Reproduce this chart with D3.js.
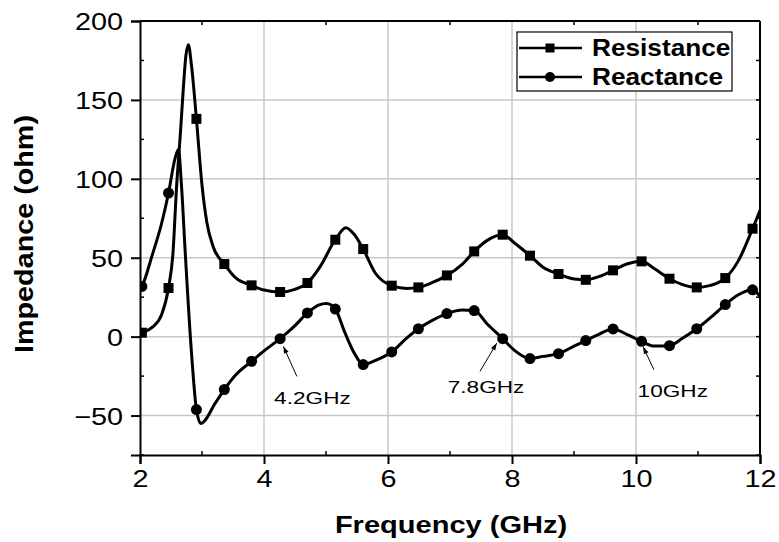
<!DOCTYPE html>
<html>
<head>
<meta charset="utf-8">
<script src="https://cdn.jsdelivr.net/npm/d3@7"></script>
<style>
  html, body { margin: 0; padding: 0; background: #ffffff; }
  svg { display: block; font-family: "Liberation Sans", Arial, sans-serif; }
</style>
</head>
<body>
<svg id="chart" width="779" height="542"></svg>
<script>
// ---------------- DATA ----------------
const xTicks = [2, 4, 6, 8, 10, 12];
const yTicks = [-50, 0, 50, 100, 150, 200];
const seriesNames = ["Resistance", "Reactance"];

// marker frequencies (GHz), shared by both series
const markerFreq = [2.03, 2.46, 2.91, 3.36, 3.80, 4.26, 4.70, 5.15, 5.60, 6.06, 6.49, 6.95,
                    7.39, 7.85, 8.29, 8.75, 9.19, 9.63, 10.09, 10.54, 10.98, 11.44, 11.88];
const resMarkers = [2.5, 30.8, 138, 46, 32.5, 28.3, 34, 61.4, 55.5, 32.3, 31.2, 38.8,
                    54, 64.6, 51.3, 39.7, 36, 42, 47.7, 36.7, 31.2, 37.1, 68.4];
const reaMarkers = [31.8, 91, -46.2, -33.5, -15.6, -1.3, 15, 17.5, -17.7, -9.7, 5, 14.6,
                    16.5, -1.3, -13.9, -10.8, -2.5, 4.9, -3, -5.7, 5, 20.3, 29.7];

// resistance curve
const resFreq = [2.0, 2.03, 2.2, 2.35, 2.46, 2.53, 2.59, 2.65, 2.70, 2.74, 2.78, 2.83, 2.91,
                 3.0, 3.08, 3.18, 3.36, 3.55, 3.80, 4.0, 4.26, 4.5, 4.70, 4.9, 5.15, 5.32,
                 5.45, 5.60, 5.8, 6.06, 6.3, 6.49, 6.7, 6.95, 7.2, 7.39, 7.6, 7.85, 8.05,
                 8.29, 8.5, 8.75, 9.0, 9.19, 9.4, 9.63, 9.85, 10.09, 10.3, 10.54, 10.75,
                 10.98, 11.2, 11.44, 11.65, 11.88, 12.0];
const resVal  = [2, 2.5, 6, 14, 31, 52, 95, 128, 158, 178, 185, 172, 138,
                 96, 72, 57, 46, 37, 32.5, 29.5, 28.3, 30, 34, 44, 61.4, 69,
                 65, 55.5, 40, 32.3, 30.5, 31.2, 34, 38.8, 46, 54, 61, 64.6, 59,
                 51.3, 44, 39.7, 36.5, 36, 38, 42, 46, 47.7, 43, 36.7, 33,
                 31.2, 32.5, 37.1, 48, 68.4, 80];

// reactance curve
const reaFreq = [2.0, 2.03, 2.2, 2.35, 2.46, 2.56, 2.62, 2.67, 2.73, 2.83, 2.91, 2.98, 3.05,
                 3.2, 3.36, 3.55, 3.80, 4.0, 4.26, 4.5, 4.70, 4.88, 5.01, 5.15, 5.3, 5.45,
                 5.60, 5.8, 6.06, 6.3, 6.49, 6.7, 6.95, 7.2, 7.39, 7.6, 7.85, 8.05, 8.29,
                 8.5, 8.75, 9.0, 9.19, 9.4, 9.63, 9.85, 10.09, 10.3, 10.54, 10.75, 10.98,
                 11.2, 11.44, 11.65, 11.88, 12.0];
const reaVal  = [30, 31.8, 52, 72, 91, 112, 118.5, 95, 53, -10, -46.2, -55, -53,
                 -43, -33.5, -24, -15.6, -9, -1.3, 7, 15, 20, 21, 17.5, 3, -10,
                 -17.7, -15, -9.7, -1, 5, 10, 14.6, 16.8, 16.5, 8, -1.3, -9, -13.9,
                 -12.5, -10.8, -6, -2.5, 1.5, 4.9, 1.5, -3, -6, -5.7, -1, 5,
                 12, 20.3, 26.5, 29.7, 25.5];

// annotations (reactance crossing points)
const annLabels = ["4.2GHz", "7.8GHz", "10GHz"];
const annFreq   = [4.26, 7.85, 10.09];
const annVal    = [-1.3, -1.3, -3];

// ---------------- LAYOUT ----------------
const svg = d3.select("#chart");
const L = 140, R = 760, T = 21, B = 455;
const x = d3.scaleLinear().domain([2, 12]).range([L, R]);
const y = d3.scaleLinear().domain([-75, 200]).range([B, T]);

svg.append("rect").attr("width", 779).attr("height", 542).attr("fill", "#fff");

svg.append("defs").append("clipPath").attr("id", "clip")
  .append("rect").attr("x", L).attr("y", T).attr("width", R - L).attr("height", B - T);

// gridlines
const grid = svg.append("g").attr("stroke", "#c8c8c8").attr("stroke-width", 1.5);
grid.selectAll("line.gx").data(xTicks.filter(d => d > 2 && d < 12)).join("line")
  .attr("x1", d => x(d)).attr("x2", d => x(d)).attr("y1", T).attr("y2", B);
grid.selectAll("line.gy").data(yTicks.filter(d => d < 200)).join("line")
  .attr("x1", L).attr("x2", R).attr("y1", d => y(d)).attr("y2", d => y(d));

// curves
const plot = svg.append("g").attr("clip-path", "url(#clip)");
const line = d3.line().x(d => x(d[0])).y(d => y(d[1])).curve(d3.curveMonotoneX);
const resPts = resFreq.map((f, i) => [f, resVal[i]]);
const reaPts = reaFreq.map((f, i) => [f, reaVal[i]]);
plot.append("path").datum(resPts).attr("d", line)
  .attr("fill", "none").attr("stroke", "#000").attr("stroke-width", 3).attr("stroke-linejoin", "round");
plot.append("path").datum(reaPts).attr("d", line)
  .attr("fill", "none").attr("stroke", "#000").attr("stroke-width", 3).attr("stroke-linejoin", "round");

// markers
const sq = 10;
plot.selectAll("rect.res").data(markerFreq.map((f, i) => [f, resMarkers[i]])).join("rect")
  .attr("x", d => x(d[0]) - sq / 2).attr("y", d => y(d[1]) - sq / 2)
  .attr("width", sq).attr("height", sq).attr("fill", "#000");
plot.selectAll("circle.rea").data(markerFreq.map((f, i) => [f, reaMarkers[i]])).join("circle")
  .attr("cx", d => x(d[0])).attr("cy", d => y(d[1])).attr("r", 5.5).attr("fill", "#000");

// axes
const sx = 1.2;
const xAxis = svg.append("g").attr("transform", `translate(0,${B})`)
  .call(d3.axisBottom(x).tickValues(xTicks).tickSize(9).tickPadding(6).tickFormat(d3.format("d")));
const yAxis = svg.append("g").attr("transform", `translate(${L},0)`)
  .call(d3.axisLeft(y).tickValues(yTicks).tickSize(9).tickPadding(8).tickFormat(d3.format("d")));
[xAxis, yAxis].forEach(a => {
  a.select(".domain").attr("stroke-width", 2);
  a.selectAll(".tick line").attr("stroke-width", 2);
  a.selectAll(".tick text").attr("font-size", 24).attr("fill", "#000")
    .attr("font-family", "Liberation Sans, Arial, sans-serif");
});
xAxis.selectAll(".tick text").attr("transform", `scale(${sx},1)`).attr("y", 15).attr("dy", "0.71em");
yAxis.selectAll(".tick text").attr("transform", `scale(${sx},1)`).attr("x", -17 / sx).attr("dy", "0.36em");

// minor ticks (inward)
const minorX = d3.range(3, 12, 2);
const minorY = d3.range(-75, 201, 25).filter(v => yTicks.indexOf(v) < 0);
const mt = svg.append("g").attr("stroke", "#000").attr("stroke-width", 1.5);
mt.selectAll("line.mx").data(minorX).join("line")
  .attr("x1", d => x(d)).attr("x2", d => x(d)).attr("y1", B).attr("y2", B - 4);
mt.selectAll("line.mxt").data(minorX).join("line")
  .attr("x1", d => x(d)).attr("x2", d => x(d)).attr("y1", T).attr("y2", T + 4);
mt.selectAll("line.my").data(minorY).join("line")
  .attr("x1", L).attr("x2", L + 4).attr("y1", d => y(d)).attr("y2", d => y(d));
mt.selectAll("line.myr").data(minorY.concat(yTicks)).join("line")
  .attr("x1", R).attr("x2", R - 4).attr("y1", d => y(d)).attr("y2", d => y(d));

// top & right frame
svg.append("line").attr("x1", L).attr("x2", R).attr("y1", T).attr("y2", T).attr("stroke", "#000").attr("stroke-width", 2);
svg.append("line").attr("x1", R).attr("x2", R).attr("y1", T).attr("y2", B).attr("stroke", "#000").attr("stroke-width", 2);

// stretched text helper
function sText(parent, tx, ty, str, size, weight, stretch, anchor, rot) {
  const g = parent.append("g").attr("transform", `translate(${tx},${ty})` + (rot ? ` rotate(${rot})` : ""));
  g.append("text").attr("transform", `scale(${stretch},1)`)
    .attr("text-anchor", anchor || "start").attr("font-size", size).attr("font-weight", weight)
    .attr("fill", "#000").text(str);
  return g;
}

// axis titles
sText(svg, (L + R) / 2 + 1, 533, "Frequency (GHz)", 24, "bold", 1.21, "middle");
sText(svg, 33, 234, "Impedance (ohm)", 25, "bold", 1.15, "middle", -90);

// legend
const lg = svg.append("g");
lg.append("rect").attr("x", 517).attr("y", 32).attr("width", 215).attr("height", 59)
  .attr("fill", "#fff").attr("stroke", "#000").attr("stroke-width", 1.2);
seriesNames.forEach((name, i) => {
  const ly = 48 + i * 29;
  lg.append("line").attr("x1", 519).attr("x2", 582).attr("y1", ly).attr("y2", ly)
    .attr("stroke", "#000").attr("stroke-width", 2.5);
  if (i === 0) {
    lg.append("rect").attr("x", 550 - 4.5).attr("y", ly - 4.5).attr("width", 9).attr("height", 9).attr("fill", "#000");
  } else {
    lg.append("circle").attr("cx", 550).attr("cy", ly).attr("r", 5).attr("fill", "#000");
  }
  sText(lg, 592, ly + 7.5, name, 23, "bold", 1.14, "start");
});

// annotations
const annDx = [-6, -55, -4], annDy = [65, 54, 56];       // text offsets from marker
const arrStart = [[16.7, 37.7], [-22.7, 32.7], [12.3, 28.3]];
const arrTip = [[3.3, 7.7], [-6, 4.5], [1.6, 5.5]];
const an = svg.append("g");
annLabels.forEach((lab, i) => {
  const px = x(annFreq[i]), py = y(annVal[i]);
  const x1 = px + arrStart[i][0], y1 = py + arrStart[i][1];
  const x2 = px + arrTip[i][0], y2 = py + arrTip[i][1];
  an.append("line").attr("x1", x1).attr("y1", y1).attr("x2", x2).attr("y2", y2)
    .attr("stroke", "#000").attr("stroke-width", 1);
  const ang = Math.atan2(y2 - y1, x2 - x1);
  const hl = 7, hw = 2.5;
  const bx = x2 - hl * Math.cos(ang), by = y2 - hl * Math.sin(ang);
  const nx = -Math.sin(ang) * hw, ny = Math.cos(ang) * hw;
  an.append("path").attr("d", `M${x2},${y2}L${bx + nx},${by + ny}L${bx - nx},${by - ny}Z`).attr("fill", "#000");
  sText(an, px + annDx[i], py + annDy[i], lab, 17, "normal", 1.33, "start");
});
</script>
</body>
</html>
